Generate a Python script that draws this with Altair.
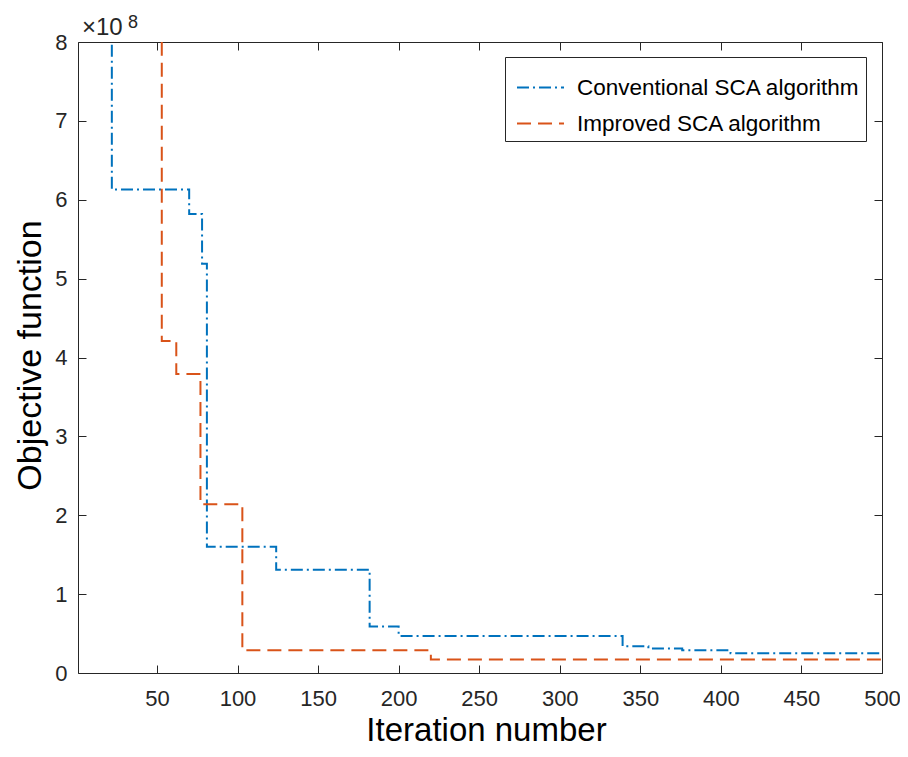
import altair as alt
import pandas as pd

# ---- data (objective in units of 1e8) ----
series_names = ["Conventional SCA algorithm", "Improved SCA algorithm"]
conv_iter = [1, 22, 70, 78, 81, 124, 182, 200, 339, 355, 376, 406, 500]
conv_val = [12.0, 6.13, 5.82, 5.19, 1.60, 1.31, 0.59, 0.47, 0.34, 0.31, 0.29, 0.25, 0.25]
imp_iter = [1, 53, 62, 77, 103, 220, 500]
imp_val = [12.0, 4.21, 3.79, 2.14, 0.29, 0.17, 0.17]
x_ticks = [50, 100, 150, 200, 250, 300, 350, 400, 450, 500]
y_ticks = [0, 1, 2, 3, 4, 5, 6, 7, 8]
exponent_base = "×10"
exponent_power = "8"

colors = ["#0072BD", "#D95319"]
dashes = [[12, 4, 2, 4], [14, 7]]
FONT = "Liberation Sans"
AX = "#262626"

df = pd.concat([
    pd.DataFrame({"iter": conv_iter, "val": conv_val, "series": series_names[0]}),
    pd.DataFrame({"iter": imp_iter, "val": imp_val, "series": series_names[1]}),
])

W, H = 804, 631
inward = {"expr": "-8"}

xscale = alt.Scale(domain=[1, 500], nice=False, zero=False)
yscale = alt.Scale(domain=[0, 8], nice=False, zero=False)

legend = alt.Legend(
    title=None, orient="none", legendX=427, legendY=15, direction="vertical",
    symbolType="stroke", symbolSize=2209, symbolStrokeWidth=2, symbolOffset=5,
    labelFontSize=22.5, labelFont=FONT, labelColor="black", labelOffset=12,
    labelLimit=500, padding=6, rowPadding=0, strokeColor=AX,
    fillColor="white", cornerRadius=0,
)

lines = alt.Chart(df).mark_line(interpolate="step-after", strokeWidth=2, clip=True).encode(
    x=alt.X("iter:Q", scale=xscale, axis=alt.Axis(
        orient="bottom", values=x_ticks, grid=False, tickSize=inward, tickColor=AX,
        domainColor=AX, labelColor=AX, labelFont=FONT, labelFontSize=22,
        labelPadding=23, labelFlush=False, title="Iteration number",
        titleFont=FONT, titleFontSize=33, titleFontWeight="normal",
        titleColor="black", titleX=408, titleY=67.5, titleBaseline="alphabetic",
        titleAlign="center")),
    y=alt.Y("val:Q", scale=yscale, axis=alt.Axis(
        orient="left", values=y_ticks, grid=False, tickSize=inward, tickColor=AX,
        domainColor=AX, labelColor=AX, labelFont=FONT, labelFontSize=22,
        labelPadding=19, labelFlush=False, title="Objective function",
        titleFont=FONT, titleFontSize=34, titleFontWeight="normal",
        titleColor="black", titleX=-38, titleY=313, titleAngle=270,
        titleBaseline="alphabetic", titleAlign="center")),
    color=alt.Color("series:N", scale=alt.Scale(domain=series_names, range=colors), legend=legend),
    strokeDash=alt.StrokeDash("series:N", scale=alt.Scale(domain=series_names, range=dashes), legend=legend),
)

frame = alt.Chart(df).mark_line(strokeOpacity=0).encode(
    x=alt.X("iter:Q", scale=xscale, axis=alt.Axis(
        orient="top", values=x_ticks, grid=False, labels=False, title=None,
        tickSize=inward, tickColor=AX, domainColor=AX)),
    y=alt.Y("val:Q", scale=yscale, axis=alt.Axis(
        orient="right", values=y_ticks, grid=False, labels=False, title=None,
        tickSize=inward, tickColor=AX, domainColor=AX)),
    detail="series:N",
)

base_txt = alt.Chart(pd.DataFrame({"t": [exponent_base]})).mark_text(
    align="left", baseline="alphabetic", font=FONT, fontSize=24, color=AX
).encode(text="t:N", x=alt.value(4), y=alt.value(-7))

pow_txt = alt.Chart(pd.DataFrame({"t": [exponent_power]})).mark_text(
    align="left", baseline="alphabetic", font=FONT, fontSize=18, color=AX
).encode(text="t:N", x=alt.value(50), y=alt.value(-14))

chart = alt.layer(lines, frame, base_txt, pow_txt).resolve_axis(
    x="independent", y="independent"
).properties(
    width=W, height=H,
    autosize=alt.AutoSizeParams(type="none"),
    padding={"left": 70, "top": 34, "right": 18, "bottom": 75},
).configure_view(stroke=None).configure(background="white")

chart.save("out.html", embed_options={"renderer": "svg", "actions": False})
